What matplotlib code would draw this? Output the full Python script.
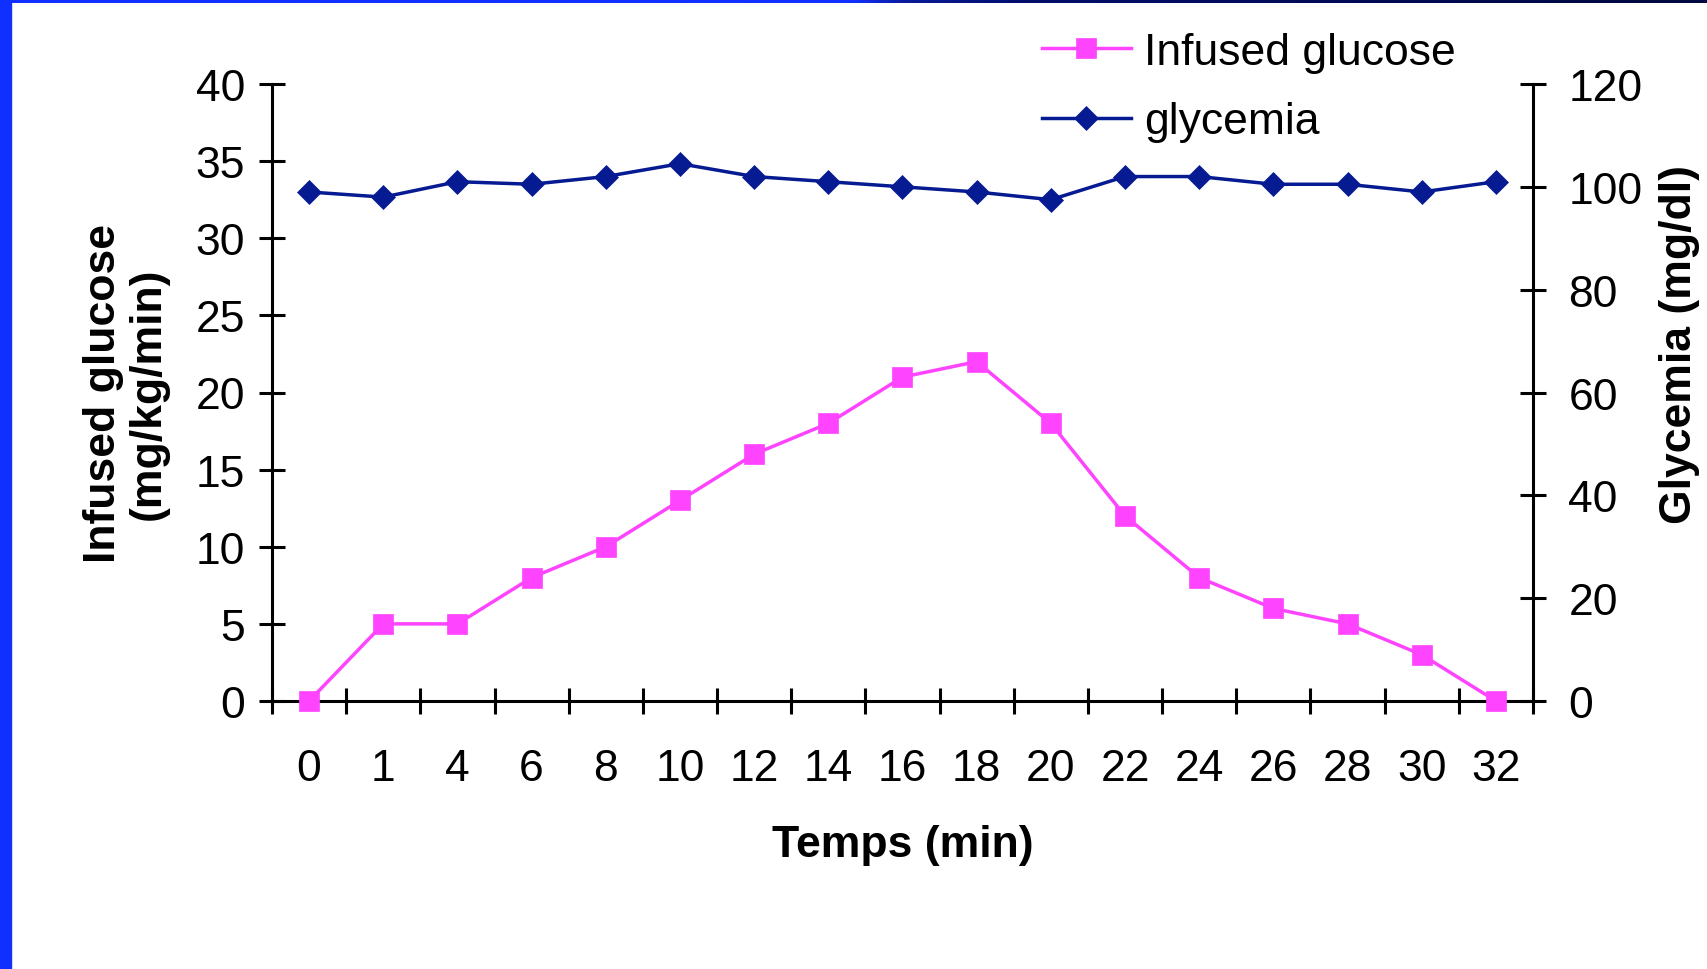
import numpy as np
import matplotlib
matplotlib.use("Agg")
import matplotlib.pyplot as plt
from matplotlib.patches import Rectangle
from matplotlib.colors import LinearSegmentedColormap

# Time points (min) and measured series
time_labels = ["0", "1", "4", "6", "8", "10", "12", "14", "16", "18",
               "20", "22", "24", "26", "28", "30", "32"]
infused_glucose = [0, 5, 5, 8, 10, 13, 16, 18, 21, 22, 18, 12, 8, 6, 5, 3, 0]
glycemia = [99, 98, 101, 100.5, 102, 104.5, 102, 101, 100, 99,
            97.5, 102, 102, 100.5, 100.5, 99, 101]

plt.rcParams["font.family"] = ["Liberation Sans", "DejaVu Sans"]

W, H, DPI = 1708, 970, 100
fig = plt.figure(figsize=(W / DPI, H / DPI), dpi=DPI, facecolor="white")

PINK = "#ff44ff"
NAVY = "#061a91"
FS = 32
LW_AX = 2.2
TICK_LEN = 19

# slide frame: left bar and top bar
fig.patches.append(Rectangle((0, 0), 11 / W, 1, transform=fig.transFigure,
                             color="#1030ff", zorder=0))
bar = fig.add_axes([0, 1 - 4 / H, 1, 4 / H])
bar.set_axis_off()
grad = np.linspace(0, 1, 800).reshape(1, -1)
cmap = LinearSegmentedColormap.from_list(
    "bar", [(0, "#1030ff"), (0.50, "#1030ff"), (0.53, "#0a1a9a"),
            (0.60, "#000d6a"), (1, "#00083f")])
bar.imshow(grad, aspect="auto", cmap=cmap, extent=[0, 1, 0, 1])

ax = fig.add_axes([272 / W, 1 - 702 / H, (1533 - 272) / W, (702 - 85) / H])
ax2 = ax.twinx()

x = np.arange(len(time_labels))
l1, = ax.plot(x, infused_glucose, color=PINK, lw=2.5, marker="s", ms=15,
              mec=PINK, mew=0.5, clip_on=False, zorder=3, label="Infused glucose")
l2, = ax2.plot(x, glycemia, color=NAVY, lw=2.5, marker="D", ms=12.5,
               mec=NAVY, mew=0.5, clip_on=False, zorder=3, label="glycemia")

ax.set_xlim(-0.5, len(time_labels) - 0.5)
ax.set_ylim(0, 40)
ax2.set_ylim(0, 120)
ax.set_yticks(np.arange(0, 41, 5))
ax2.set_yticks(np.arange(0, 121, 20))

# category boundaries as tick marks, labels at category centres
ax.set_xticks(np.arange(-0.5, len(time_labels), 1))
ax.set_xticklabels([])
ax.set_xticks(x, minor=True)
ax.set_xticklabels(time_labels, minor=True)
ax.tick_params(axis="x", which="major", direction="inout", length=TICK_LEN,
               width=LW_AX)
ax.tick_params(axis="x", which="minor", length=0, pad=34, labelsize=FS)
ax.tick_params(axis="y", direction="inout", length=TICK_LEN, width=LW_AX,
               pad=10, labelsize=FS)
ax2.tick_params(axis="y", direction="inout", length=TICK_LEN, width=LW_AX,
                pad=16, labelsize=FS)

for a in (ax, ax2):
    a.spines["top"].set_visible(False)
    for s in a.spines.values():
        s.set_linewidth(LW_AX)
ax.spines["right"].set_visible(False)
ax2.spines["left"].set_visible(False)
ax2.spines["bottom"].set_visible(False)
ax.set_facecolor("none")

ax.set_xlabel("Temps (min)", fontsize=FS, fontweight="bold")
ax.xaxis.set_label_coords(0.5, -0.199)

ax.set_ylabel("Infused glucose\n(mg/kg/min)", fontsize=FS, fontweight="bold",
              linespacing=1.1, ha="center", va="center")
ax.yaxis.set_label_coords(-0.116, 0.50)

ax2.set_ylabel("Glycemia (mg/dl)", fontsize=FS, fontweight="bold",
               rotation=90, ha="center", va="center")
ax2.yaxis.set_label_coords(1.116, 0.579)

fig.legend(handles=[l1, l2], loc="upper left",
           bbox_to_anchor=(1042 / W, 1 - 33 / H), frameon=False,
           fontsize=FS, numpoints=1, handlelength=2.0, handletextpad=0.3,
           labelspacing=0.64, borderaxespad=0, borderpad=0)

fig.savefig("out.png", dpi=DPI, facecolor="white")
